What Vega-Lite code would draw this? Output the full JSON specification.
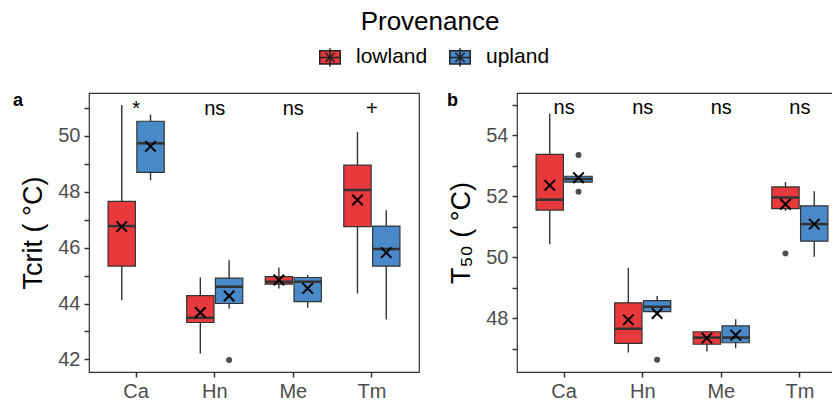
{
  "$schema": "https://vega.github.io/schema/vega-lite/v6.json",
  "padding": {"left": 12, "top": 9, "right": 0, "bottom": 0},
  "background": "white",
  "title": {"text": "Provenance", "fontSize": 26, "font": "Liberation Sans", "fontWeight": "normal", "color": "black", "anchor": "middle", "offset": 11, "dx": 0},
  "datasets": {
    "boxes": [
      {"panel": "a", "species": "Ca", "prov": "lowland", "lo": 44.12, "q1": 45.34, "med": 46.77, "q3": 47.65, "hi": 51.10, "mean": 46.75},
      {"panel": "a", "species": "Ca", "prov": "upland", "lo": 48.41, "q1": 48.69, "med": 49.73, "q3": 50.52, "hi": 50.76, "mean": 49.62},
      {"panel": "a", "species": "Hn", "prov": "lowland", "lo": 42.21, "q1": 43.32, "med": 43.49, "q3": 44.28, "hi": 44.93, "mean": 43.68},
      {"panel": "a", "species": "Hn", "prov": "upland", "lo": 43.81, "q1": 44.00, "med": 44.60, "q3": 44.91, "hi": 45.55, "mean": 44.27},
      {"panel": "a", "species": "Me", "prov": "lowland", "lo": 44.54, "q1": 44.69, "med": 44.78, "q3": 44.96, "hi": 45.29, "mean": 44.84},
      {"panel": "a", "species": "Me", "prov": "upland", "lo": 43.85, "q1": 44.07, "med": 44.78, "q3": 44.93, "hi": 45.02, "mean": 44.54},
      {"panel": "a", "species": "Tm", "prov": "lowland", "lo": 44.36, "q1": 46.75, "med": 48.06, "q3": 48.95, "hi": 50.14, "mean": 47.70},
      {"panel": "a", "species": "Tm", "prov": "upland", "lo": 43.43, "q1": 45.34, "med": 45.95, "q3": 46.77, "hi": 47.34, "mean": 45.82},
      {"panel": "b", "species": "Ca", "prov": "lowland", "lo": 50.43, "q1": 51.55, "med": 51.89, "q3": 53.38, "hi": 54.71, "mean": 52.36},
      {"panel": "b", "species": "Ca", "prov": "upland", "lo": 52.47, "q1": 52.47, "med": 52.57, "q3": 52.66, "hi": 52.66, "mean": 52.61},
      {"panel": "b", "species": "Hn", "prov": "lowland", "lo": 46.88, "q1": 47.18, "med": 47.66, "q3": 48.51, "hi": 49.66, "mean": 47.95},
      {"panel": "b", "species": "Hn", "prov": "upland", "lo": 48.22, "q1": 48.22, "med": 48.38, "q3": 48.58, "hi": 48.73, "mean": 48.16},
      {"panel": "b", "species": "Me", "prov": "lowland", "lo": 46.91, "q1": 47.15, "med": 47.37, "q3": 47.56, "hi": 47.56, "mean": 47.35},
      {"panel": "b", "species": "Me", "prov": "upland", "lo": 47.02, "q1": 47.20, "med": 47.37, "q3": 47.75, "hi": 47.97, "mean": 47.45},
      {"panel": "b", "species": "Tm", "prov": "lowland", "lo": 51.52, "q1": 51.60, "med": 51.96, "q3": 52.31, "hi": 52.47, "mean": 51.74},
      {"panel": "b", "species": "Tm", "prov": "upland", "lo": 50.02, "q1": 50.53, "med": 51.09, "q3": 51.69, "hi": 52.17, "mean": 51.09}
    ],
    "outliers": [
      {"panel": "a", "species": "Hn", "prov": "upland", "value": 41.98},
      {"panel": "b", "species": "Ca", "prov": "upland", "value": 53.36},
      {"panel": "b", "species": "Ca", "prov": "upland", "value": 52.15},
      {"panel": "b", "species": "Hn", "prov": "upland", "value": 46.64},
      {"panel": "b", "species": "Tm", "prov": "lowland", "value": 50.13}
    ],
    "labels": [
      {"panel": "a", "species": "Ca", "label": "*", "y": 50.74},
      {"panel": "a", "species": "Hn", "label": "ns", "y": 50.74},
      {"panel": "a", "species": "Me", "label": "ns", "y": 50.74},
      {"panel": "a", "species": "Tm", "label": "+", "y": 50.74},
      {"panel": "b", "species": "Ca", "label": "ns", "y": 54.71},
      {"panel": "b", "species": "Hn", "label": "ns", "y": 54.71},
      {"panel": "b", "species": "Me", "label": "ns", "y": 54.71},
      {"panel": "b", "species": "Tm", "label": "ns", "y": 54.71}
    ]
  },
  "hconcat": [
    {
      "width": 330,
      "height": 279,
      "title": {"text": "a", "anchor": "start", "frame": "group", "dx": -76, "offset": -31, "baseline": "alphabetic", "fontSize": 18, "fontWeight": "bold", "font": "Liberation Sans", "color": "black"},
      "encoding": {
        "x": {"field": "species", "type": "nominal", "sort": ["Ca", "Hn", "Me", "Tm"], "scale": {"type": "band", "paddingInner": 0, "paddingOuter": 0.1}, "axis": {"title": null, "labelAngle": 0}}
      },
      "layer": [
        {
          "data": {"name": "boxes"},
          "transform": [{"filter": "datum.panel === 'a'"}],
          "mark": {"type": "rule", "color": "#333333", "strokeWidth": 1.4},
          "encoding": {
            "xOffset": {"field": "prov", "type": "nominal", "scale": {"paddingInner": 0.05, "paddingOuter": 0.39}},
            "y": {"field": "lo", "type": "quantitative", "scale": {"domain": [41.55, 51.53], "nice": false, "zero": false}, "axis": {"title": "Tcrit ( °C)", "values": [42, 43, 44, 45, 46, 47, 48, 49, 50, 51], "tickCount": 30, "format": "d", "labelExpr": "datum.value % 2 === 0 ? datum.label : ''"}},
            "y2": {"field": "hi"}
          }
        },
        {
          "data": {"name": "boxes"},
          "transform": [{"filter": "datum.panel === 'a'"}],
          "mark": {"type": "bar", "stroke": "#333333", "strokeWidth": 1.2, "opacity": 1},
          "encoding": {
            "xOffset": {"field": "prov", "type": "nominal", "scale": {"paddingInner": 0.05, "paddingOuter": 0.39}},
            "y": {"field": "q1", "type": "quantitative"},
            "y2": {"field": "q3"},
            "fill": {"field": "prov", "type": "nominal", "scale": {"domain": ["lowland", "upland"], "range": ["#E8393D", "#4A89C8"]}, "legend": {"title": null, "orient": "none", "direction": "horizontal", "legendX": 230, "legendY": -47}}
          }
        },
        {
          "data": {"name": "boxes"},
          "transform": [{"filter": "datum.panel === 'a'"}],
          "mark": {"type": "tick", "color": "#333333", "thickness": 2.5, "size": 27.3, "opacity": 1},
          "encoding": {
            "xOffset": {"field": "prov", "type": "nominal", "scale": {"paddingInner": 0.05, "paddingOuter": 0.39}},
            "y": {"field": "med", "type": "quantitative"}
          }
        },
        {
          "data": {"name": "outliers"},
          "transform": [{"filter": "datum.panel === 'a'"}],
          "mark": {"type": "point", "filled": true, "color": "#4D4D4D", "size": 36, "opacity": 1},
          "encoding": {
            "xOffset": {"field": "prov", "type": "nominal", "scale": {"paddingInner": 0.05, "paddingOuter": 0.39}},
            "y": {"field": "value", "type": "quantitative"}
          }
        },
        {
          "data": {"name": "boxes"},
          "transform": [{"filter": "datum.panel === 'a'"}],
          "mark": {"type": "point", "shape": "M-1,-1L1,1M-1,1L1,-1", "filled": false, "color": "black", "strokeWidth": 2, "size": 110, "opacity": 1},
          "encoding": {
            "xOffset": {"field": "prov", "type": "nominal", "scale": {"paddingInner": 0.05, "paddingOuter": 0.39}},
            "y": {"field": "mean", "type": "quantitative"}
          }
        },
        {
          "data": {"name": "labels"},
          "transform": [{"filter": "datum.panel === 'a'"}],
          "mark": {"type": "text", "fontSize": 20, "font": "Liberation Sans", "color": "black", "baseline": "alphabetic"},
          "encoding": {
            "y": {"field": "y", "type": "quantitative"},
            "text": {"field": "label"}
          }
        }
      ]
    },
    {
      "width": 330,
      "height": 279,
      "title": {"text": "b", "anchor": "start", "frame": "group", "dx": -70, "offset": -31, "baseline": "alphabetic", "fontSize": 18, "fontWeight": "bold", "font": "Liberation Sans", "color": "black"},
      "encoding": {
        "x": {"field": "species", "type": "nominal", "sort": ["Ca", "Hn", "Me", "Tm"], "scale": {"type": "band", "paddingInner": 0, "paddingOuter": 0.1}, "axis": {"title": null, "labelAngle": 0}}
      },
      "layer": [
        {
          "data": {"name": "boxes"},
          "transform": [{"filter": "datum.panel === 'b'"}],
          "mark": {"type": "rule", "color": "#333333", "strokeWidth": 1.4},
          "encoding": {
            "xOffset": {"field": "prov", "type": "nominal", "scale": {"paddingInner": 0.05, "paddingOuter": 0.39}},
            "y": {"field": "lo", "type": "quantitative", "scale": {"domain": [46.24, 55.39], "nice": false, "zero": false}, "axis": {"title": "T₅₀ ( °C)", "values": [47, 48, 49, 50, 51, 52, 53, 54, 55], "tickCount": 30, "format": "d", "labelExpr": "datum.value % 2 === 0 ? datum.label : ''"}},
            "y2": {"field": "hi"}
          }
        },
        {
          "data": {"name": "boxes"},
          "transform": [{"filter": "datum.panel === 'b'"}],
          "mark": {"type": "bar", "stroke": "#333333", "strokeWidth": 1.2, "opacity": 1},
          "encoding": {
            "xOffset": {"field": "prov", "type": "nominal", "scale": {"paddingInner": 0.05, "paddingOuter": 0.39}},
            "y": {"field": "q1", "type": "quantitative"},
            "y2": {"field": "q3"},
            "fill": {"field": "prov", "type": "nominal", "scale": {"domain": ["lowland", "upland"], "range": ["#E8393D", "#4A89C8"]}, "legend": {"title": null, "orient": "none", "direction": "horizontal", "legendX": 230, "legendY": -47}}
          }
        },
        {
          "data": {"name": "boxes"},
          "transform": [{"filter": "datum.panel === 'b'"}],
          "mark": {"type": "tick", "color": "#333333", "thickness": 2.5, "size": 27.3, "opacity": 1},
          "encoding": {
            "xOffset": {"field": "prov", "type": "nominal", "scale": {"paddingInner": 0.05, "paddingOuter": 0.39}},
            "y": {"field": "med", "type": "quantitative"}
          }
        },
        {
          "data": {"name": "outliers"},
          "transform": [{"filter": "datum.panel === 'b'"}],
          "mark": {"type": "point", "filled": true, "color": "#4D4D4D", "size": 36, "opacity": 1},
          "encoding": {
            "xOffset": {"field": "prov", "type": "nominal", "scale": {"paddingInner": 0.05, "paddingOuter": 0.39}},
            "y": {"field": "value", "type": "quantitative"}
          }
        },
        {
          "data": {"name": "boxes"},
          "transform": [{"filter": "datum.panel === 'b'"}],
          "mark": {"type": "point", "shape": "M-1,-1L1,1M-1,1L1,-1", "filled": false, "color": "black", "strokeWidth": 2, "size": 110, "opacity": 1},
          "encoding": {
            "xOffset": {"field": "prov", "type": "nominal", "scale": {"paddingInner": 0.05, "paddingOuter": 0.39}},
            "y": {"field": "mean", "type": "quantitative"}
          }
        },
        {
          "data": {"name": "labels"},
          "transform": [{"filter": "datum.panel === 'b'"}],
          "mark": {"type": "text", "fontSize": 20, "font": "Liberation Sans", "color": "black", "baseline": "alphabetic"},
          "encoding": {
            "y": {"field": "y", "type": "quantitative"},
            "text": {"field": "label"}
          }
        }
      ]
    }
  ],
  "spacing": 26,
  "config": {
    "font": "Liberation Sans",
    "view": {"stroke": "#333333", "strokeWidth": 1.2},
    "axis": {"domain": false, "grid": false, "labelOverlap": false, "labelFont": "Liberation Sans", "labelFontSize": 20, "labelColor": "#4D4D4D", "titleFont": "Liberation Sans", "titleFontSize": 27, "titleFontWeight": "normal", "titleColor": "black", "tickColor": "#333333", "tickSize": 5, "tickWidth": 1.5, "labelPadding": 4, "titlePadding": 10},
    "legend": {"labelFont": "Liberation Sans", "labelFontSize": 21, "labelColor": "black", "symbolType": "M-1,-0.65H1V0.65H-1Z M0,-0.9V0.9 M-1,0H1 M-0.45,-0.45L0.45,0.45 M-0.45,0.45L0.45,-0.45", "symbolSize": 420, "symbolStrokeColor": "#222222", "symbolStrokeWidth": 1.5, "symbolOpacity": 1, "labelOffset": 15, "columnPadding": 18}
  }
}
